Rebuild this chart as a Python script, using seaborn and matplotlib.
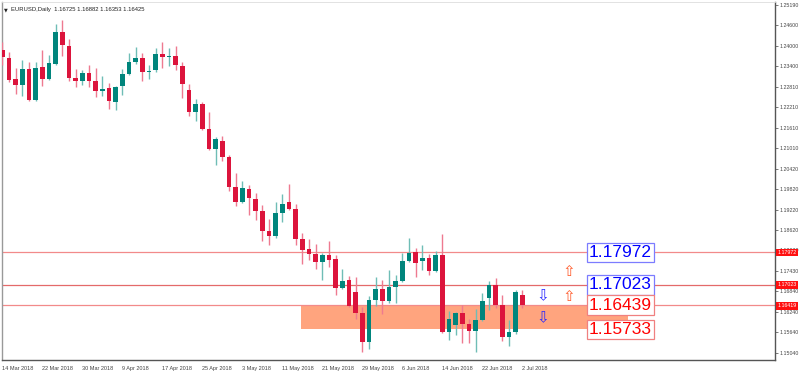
import numpy as np
import pandas as pd
import matplotlib
matplotlib.use("Agg")
import matplotlib.pyplot as plt
import matplotlib.transforms as mtransforms
import seaborn as sns

# ---------------- data ----------------
dates = pd.bdate_range("2018-03-14", "2018-07-02")

opens = [1.23877,1.23644,1.23032,1.22857,1.23323,1.22419,1.23382,1.23032,1.23469,1.24403,
         1.23994,1.23061,1.22973,1.23207,1.22973,1.22682,1.22769,1.22361,1.22827,1.23177,
         1.23527,1.23644,1.23236,1.23294,1.23761,1.23673,1.23702,1.23411,1.22711,1.22069,
         1.22302,1.21573,1.20990,1.21223,1.20756,1.19881,1.19444,1.19823,1.19531,1.19181,
         1.18598,1.18452,1.19123,1.19444,1.19239,1.18364,1.18073,1.17927,1.17693,1.17898,
         1.17781,1.16935,1.17168,1.16818,1.16206,1.15360,1.16585,1.16906,1.16556,1.16964,
         1.17139,1.17723,1.17985,1.17723,1.17810,1.17431,1.17898,1.15652,1.15856,1.16206,
         1.15885,1.15681,1.16002,1.16643,1.17023,1.16439,1.15506,1.15652,1.16725]
closes = [1.23673,1.23002,1.22857,1.23323,1.22419,1.23352,1.23032,1.23498,1.24403,1.24023,
          1.23061,1.22973,1.23207,1.22973,1.22682,1.22740,1.22390,1.22798,1.23177,1.23527,
          1.23644,1.23236,1.23265,1.23761,1.23673,1.23702,1.23440,1.22886,1.22069,1.22302,
          1.21573,1.20990,1.21281,1.20756,1.19881,1.19444,1.19852,1.19560,1.19181,1.18598,
          1.18452,1.19123,1.19385,1.19239,1.18364,1.18043,1.17927,1.17693,1.17898,1.17752,
          1.16935,1.17139,1.16410,1.16206,1.15360,1.16585,1.16906,1.16556,1.16964,1.17139,
          1.17723,1.17956,1.17664,1.17810,1.17431,1.17898,1.15652,1.16031,1.16206,1.15885,
          1.15681,1.16002,1.16556,1.17023,1.16439,1.15506,1.15652,1.16818,1.16425]
highs = [1.24111,1.23819,1.23352,1.23586,1.23527,1.23527,1.23877,1.23732,1.24636,1.24753,
         1.24198,1.23323,1.23294,1.23440,1.23352,1.23119,1.22915,1.22827,1.23323,1.23790,
         1.23965,1.23790,1.23440,1.23936,1.24111,1.23936,1.23994,1.23527,1.22886,1.22448,
         1.22361,1.22069,1.21340,1.21369,1.20815,1.20290,1.20056,1.19940,1.19706,1.19356,
         1.18948,1.19444,1.19677,1.19969,1.19385,1.18539,1.18364,1.18219,1.17956,1.18306,
         1.17898,1.17489,1.17285,1.17256,1.16381,1.16702,1.17256,1.17168,1.17460,1.17314,
         1.17956,1.18394,1.18102,1.18189,1.17927,1.18014,1.18510,1.16264,1.16235,1.16439,
         1.16031,1.16322,1.16789,1.17139,1.17227,1.16731,1.16002,1.16877,1.16882]
lows = [1.23440,1.22944,1.22594,1.22536,1.22390,1.22390,1.22827,1.23002,1.23440,1.23702,
        1.22973,1.22798,1.22857,1.22798,1.22507,1.22536,1.22156,1.22127,1.22565,1.23148,
        1.23469,1.22973,1.23032,1.23236,1.23352,1.23411,1.23294,1.22477,1.21952,1.21806,
        1.21544,1.20961,1.20523,1.20640,1.19765,1.19327,1.19415,1.19064,1.18919,1.18306,
        1.18189,1.18394,1.18860,1.19210,1.18189,1.17635,1.17752,1.17489,1.17168,1.17548,
        1.16731,1.16906,1.16381,1.16031,1.15068,1.15156,1.16410,1.16177,1.16497,1.16497,
        1.17110,1.17693,1.17256,1.17460,1.17314,1.17402,1.15622,1.15418,1.15564,1.15331,
        1.15331,1.15068,1.15972,1.16293,1.16352,1.15389,1.15243,1.15593,1.16353]

price_ticks = [1.25190, 1.24600, 1.24000, 1.23400, 1.22810, 1.22210, 1.21610, 1.21010,
               1.20420, 1.19820, 1.19220, 1.18620, 1.18030, 1.17430, 1.16840, 1.16240,
               1.15640, 1.15040]
date_tick_labels = ["14 Mar 2018", "22 Mar 2018", "30 Mar 2018", "9 Apr 2018", "17 Apr 2018",
                    "25 Apr 2018", "3 May 2018", "11 May 2018", "21 May 2018", "29 May 2018",
                    "6 Jun 2018", "14 Jun 2018", "22 Jun 2018", "2 Jul 2018"]

levels_blue = [1.17972, 1.17023]
levels_red = [1.16439, 1.15733]
axis_tags = [1.17972, 1.17023, 1.16419]
zone_low, zone_high = 1.15733, 1.16439
zone_start_bar, zone_end_bar = 44.8, 93.8
up_arrow_bar, up_arrow_prices = 85.0, [1.17402, 1.16673]
down_arrow_bar, down_arrow_prices = 81.0, [1.16702, 1.16060]
label_bar = 88.0
header = "EURUSD,Daily  1.16725 1.16882 1.16353 1.16425"

# ---------------- plot ----------------
sns.set_theme(style="white")
plt.rcParams["font.family"] = ["Liberation Sans", "DejaVu Sans"]

df = pd.DataFrame({"date": dates, "open": opens, "high": highs, "low": lows, "close": closes})
df["idx"] = np.arange(len(df))
df["up"] = df["close"] >= df["open"]

RED = "#DC143C"
GREEN = "#00857C"
col_body = np.where(df["up"], GREEN, RED)
col_wick = np.where(df["up"], "#6FBDB6", "#EE7A90")

fig = plt.figure(figsize=(8.0, 3.71), dpi=100)
ax = fig.add_axes([2 / 800, 11 / 371, 773 / 800, 358 / 371])

# zone
ax.fill_between([zone_start_bar, zone_end_bar], zone_low, zone_high,
                color="#FFA47E", lw=0, zorder=1)

# horizontal levels
for lv, c in [(1.17972, "#F28A8A"), (1.17023, "#E46A6A"), (1.16439, "#F28A8A")]:
    ax.axhline(lv, color=c, lw=0.9, zorder=2)

# wicks
ax.vlines(df["idx"], df["low"], df["high"], colors=col_wick, lw=1.0, zorder=3)
# bodies
body_bottom = np.minimum(df["open"], df["close"])
body_h = np.maximum(np.abs(df["close"] - df["open"]), 0.00025)
ax.bar(df["idx"], body_h, bottom=body_bottom, width=0.7, color=col_body,
       edgecolor="none", zorder=4)

# arrows
for p in up_arrow_prices:
    ax.text(up_arrow_bar, p, "\u21e7", color="#FF5A2A", fontsize=11, ha="center",
            va="center", family="DejaVu Sans", zorder=6)
for p in down_arrow_prices:
    ax.text(down_arrow_bar, p, "\u21e9", color="#2A2AFF", fontsize=11, ha="center",
            va="center", family="DejaVu Sans", zorder=6)

# level labels
for lv in levels_blue:
    ax.text(label_bar, lv, f"{lv:.5f}", color="#0000FF", fontsize=12.5, ha="left",
            va="center", zorder=7,
            bbox=dict(boxstyle="square,pad=0.12", fc="white", ec="#7C7CFF", lw=0.9))
for lv in levels_red:
    ax.text(label_bar, lv, f"{lv:.5f}", color="#FF0000", fontsize=12.5, ha="left",
            va="center", zorder=7,
            bbox=dict(boxstyle="square,pad=0.12", fc="white", ec="#F08080", lw=0.9))

# axes limits
ax.set_xlim(-0.05, 115.9)
ax.set_ylim(1.14835, 1.25278)

# right price axis
ax.yaxis.tick_right()
ax.set_yticks(price_ticks)
ax.set_yticklabels([f"{v:.5f}" for v in price_ticks], fontsize=3.8, color="#333333")
ax.tick_params(axis="y", direction="out", length=2.0, width=0.5, pad=1.0, colors="#444444")

# date axis
ax.set_xticks(df["idx"].iloc[::6])
ax.set_xticklabels(date_tick_labels, fontsize=4.0, color="#333333")
for lab in ax.get_xticklabels():
    lab.set_ha("left")
ax.tick_params(axis="x", direction="out", length=2.5, width=0.5, pad=1.5, colors="#444444")
ax.set_xlabel("")
ax.set_ylabel("")

# price tags on the right axis
trans = mtransforms.blended_transform_factory(ax.transAxes, ax.transData)
for t in axis_tags:
    ax.text(1.003, t, f"{t:.5f}", transform=trans, fontsize=3.8, color="white",
            ha="left", va="center", zorder=8, clip_on=False,
            bbox=dict(boxstyle="square,pad=0.25", fc="#FF1010", ec="none"))

# header
ax.text(0.003, 0.985, "\u25bc", transform=ax.transAxes, fontsize=3.5, color="#222222",
        ha="left", va="top", family="DejaVu Sans")
ax.text(0.011, 0.985, header, transform=ax.transAxes, fontsize=4.2, color="#222222",
        ha="left", va="top")

for side in ["right", "bottom"]:
    ax.spines[side].set_color("#555555")
    ax.spines[side].set_linewidth(1.0)
ax.spines["left"].set_color("#999999")
ax.spines["top"].set_color("#DDDDDD")
ax.spines["left"].set_linewidth(1.0)
ax.spines["top"].set_linewidth(0.6)

fig.savefig("out.png", dpi=100)
